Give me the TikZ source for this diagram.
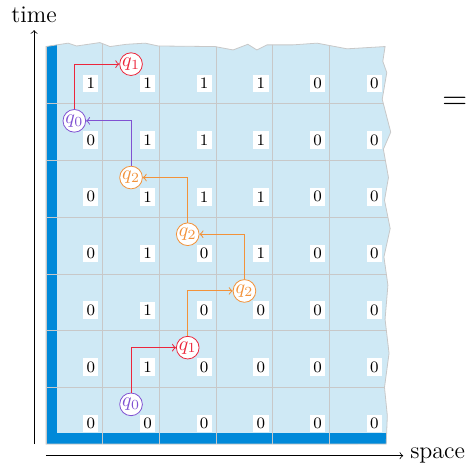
\documentclass[tikz,border=0pt]{standalone}
\usepackage{tikz}
\usetikzlibrary{positioning, calc}

\definecolor{tape}{RGB}{207,233,245}
\definecolor{edge}{RGB}{0,137,217}
\definecolor{rule}{RGB}{200,200,200}
\definecolor{qa}{RGB}{128,82,210}
\definecolor{qb}{RGB}{236,38,60}
\definecolor{qc}{RGB}{242,146,58}

% torn outline of the tape
\newcommand{\tornpath}{(0,0) -- (6,0) -- (6.02,0.5) -- (5.97,1.0) -- (6.05,1.6) -- (5.98,2.2) -- (6.03,2.8) -- (5.96,3.3) -- (6.07,3.8) -- (5.97,4.3) -- (6.04,4.7) -- (5.95,5.2) -- (6.08,5.5) -- (5.93,6.08) -- (6.01,6.55) -- (5.94,6.75) -- (5.98,7.01) -- (5.31,6.97) -- (4.78,7.07) -- (4.36,7.04) -- (3.90,7.04) -- (3.72,6.95) -- (3.56,7.05) -- (3.30,6.95) -- (2.98,7.01) -- (1.98,7.02) -- (1.75,7.07) -- (1.42,7.05) -- (1.13,7.01) -- (0.95,7.08) -- (0.54,7.02) -- (0.39,7.07) -- (0,7.01) -- cycle}

\begin{document}
\begin{tikzpicture}[st/.style={draw=#1, text=#1, circle, fill=white, inner sep=0pt, minimum size=0.4cm}, sym/.style={fill=white, inner sep=1.7pt, font=\footnotesize}, move/.style={->, #1, line width=0.5pt}]
\useasboundingbox (-0.811,-0.353) rectangle (7.425,7.831);

\fill[tape] \tornpath;
\begin{scope}
\clip \tornpath;
\fill[edge] (0,0) rectangle (0.19,7.2);
\fill[edge] (0,0) rectangle (6.2,0.19);
\draw[rule] (0,0) grid[xstep=1, ystep=20] (5.5,7.2);
\draw[rule] (0,0) grid[xstep=20, ystep=1] (6.2,6.5);
\end{scope}
\draw[rule] \tornpath;

% tape contents, top row first
\node[sym] (c60) at (0.79,6.36) {1}; \node[sym] (c61) at (1.79,6.36) {1}; \node[sym] (c62) at (2.79,6.36) {1}; \node[sym] (c63) at (3.79,6.36) {1}; \node[sym] (c64) at (4.79,6.36) {0}; \node[sym] (c65) at (5.79,6.36) {0};
\node[sym] (c50) at (0.79,5.36) {0}; \node[sym] (c51) at (1.79,5.36) {1}; \node[sym] (c52) at (2.79,5.36) {1}; \node[sym] (c53) at (3.79,5.36) {1}; \node[sym] (c54) at (4.79,5.36) {0}; \node[sym] (c55) at (5.79,5.36) {0};
\node[sym] (c40) at (0.79,4.36) {0}; \node[sym] (c41) at (1.79,4.36) {1}; \node[sym] (c42) at (2.79,4.36) {1}; \node[sym] (c43) at (3.79,4.36) {1}; \node[sym] (c44) at (4.79,4.36) {0}; \node[sym] (c45) at (5.79,4.36) {0};
\node[sym] (c30) at (0.79,3.36) {0}; \node[sym] (c31) at (1.79,3.36) {1}; \node[sym] (c32) at (2.79,3.36) {0}; \node[sym] (c33) at (3.79,3.36) {1}; \node[sym] (c34) at (4.79,3.36) {0}; \node[sym] (c35) at (5.79,3.36) {0};
\node[sym] (c20) at (0.79,2.36) {0}; \node[sym] (c21) at (1.79,2.36) {1}; \node[sym] (c22) at (2.79,2.36) {0}; \node[sym] (c23) at (3.79,2.36) {0}; \node[sym] (c24) at (4.79,2.36) {0}; \node[sym] (c25) at (5.79,2.36) {0};
\node[sym] (c10) at (0.79,1.36) {0}; \node[sym] (c11) at (1.79,1.36) {1}; \node[sym] (c12) at (2.79,1.36) {0}; \node[sym] (c13) at (3.79,1.36) {0}; \node[sym] (c14) at (4.79,1.36) {0}; \node[sym] (c15) at (5.79,1.36) {0};
\node[sym] (c00) at (0.79,0.36) {0}; \node[sym] (c01) at (1.79,0.36) {0}; \node[sym] (c02) at (2.79,0.36) {0}; \node[sym] (c03) at (3.79,0.36) {0}; \node[sym] (c04) at (4.79,0.36) {0}; \node[sym] (c05) at (5.79,0.36) {0};

% head positions
\node[st=qa] (Q0) at (1.5,0.7) {$q_0$};
\node[st=qb] (Q1) at (2.5,1.7) {$q_1$};
\node[st=qc] (Q2) at (3.5,2.7) {$q_2$};
\node[st=qc] (Q3) at (2.5,3.7) {$q_2$};
\node[st=qc] (Q4) at (1.5,4.7) {$q_2$};
\node[st=qa] (Q5) at (0.5,5.7) {$q_0$};
\node[st=qb] (Q6) at (1.5,6.7) {$q_1$};
\draw[move=qb] (Q0) |- (Q1); \draw[move=qc] (Q1) |- (Q2); \draw[move=qc] (Q2) |- (Q3);
\draw[move=qc] (Q3) |- (Q4); \draw[move=qa] (Q4) |- (Q5); \draw[move=qb] (Q5) |- (Q6);

% axes
\coordinate (T0) at (-0.21,0);
\coordinate (T1) at (-0.21,7.3);
\node[above=0pt of T1, font=\large] (TL) {time};
\coordinate (S0) at (0,-0.206);
\node[anchor=west, font=\large] (SL) at (6.3,-0.206) {space};
\draw[->] (T0) -- (TL); \draw[->] (S0) -- (SL);

\node[font=\LARGE] (EQ) at (7.21,6.0) {$=$};
\end{tikzpicture}
\end{document}
